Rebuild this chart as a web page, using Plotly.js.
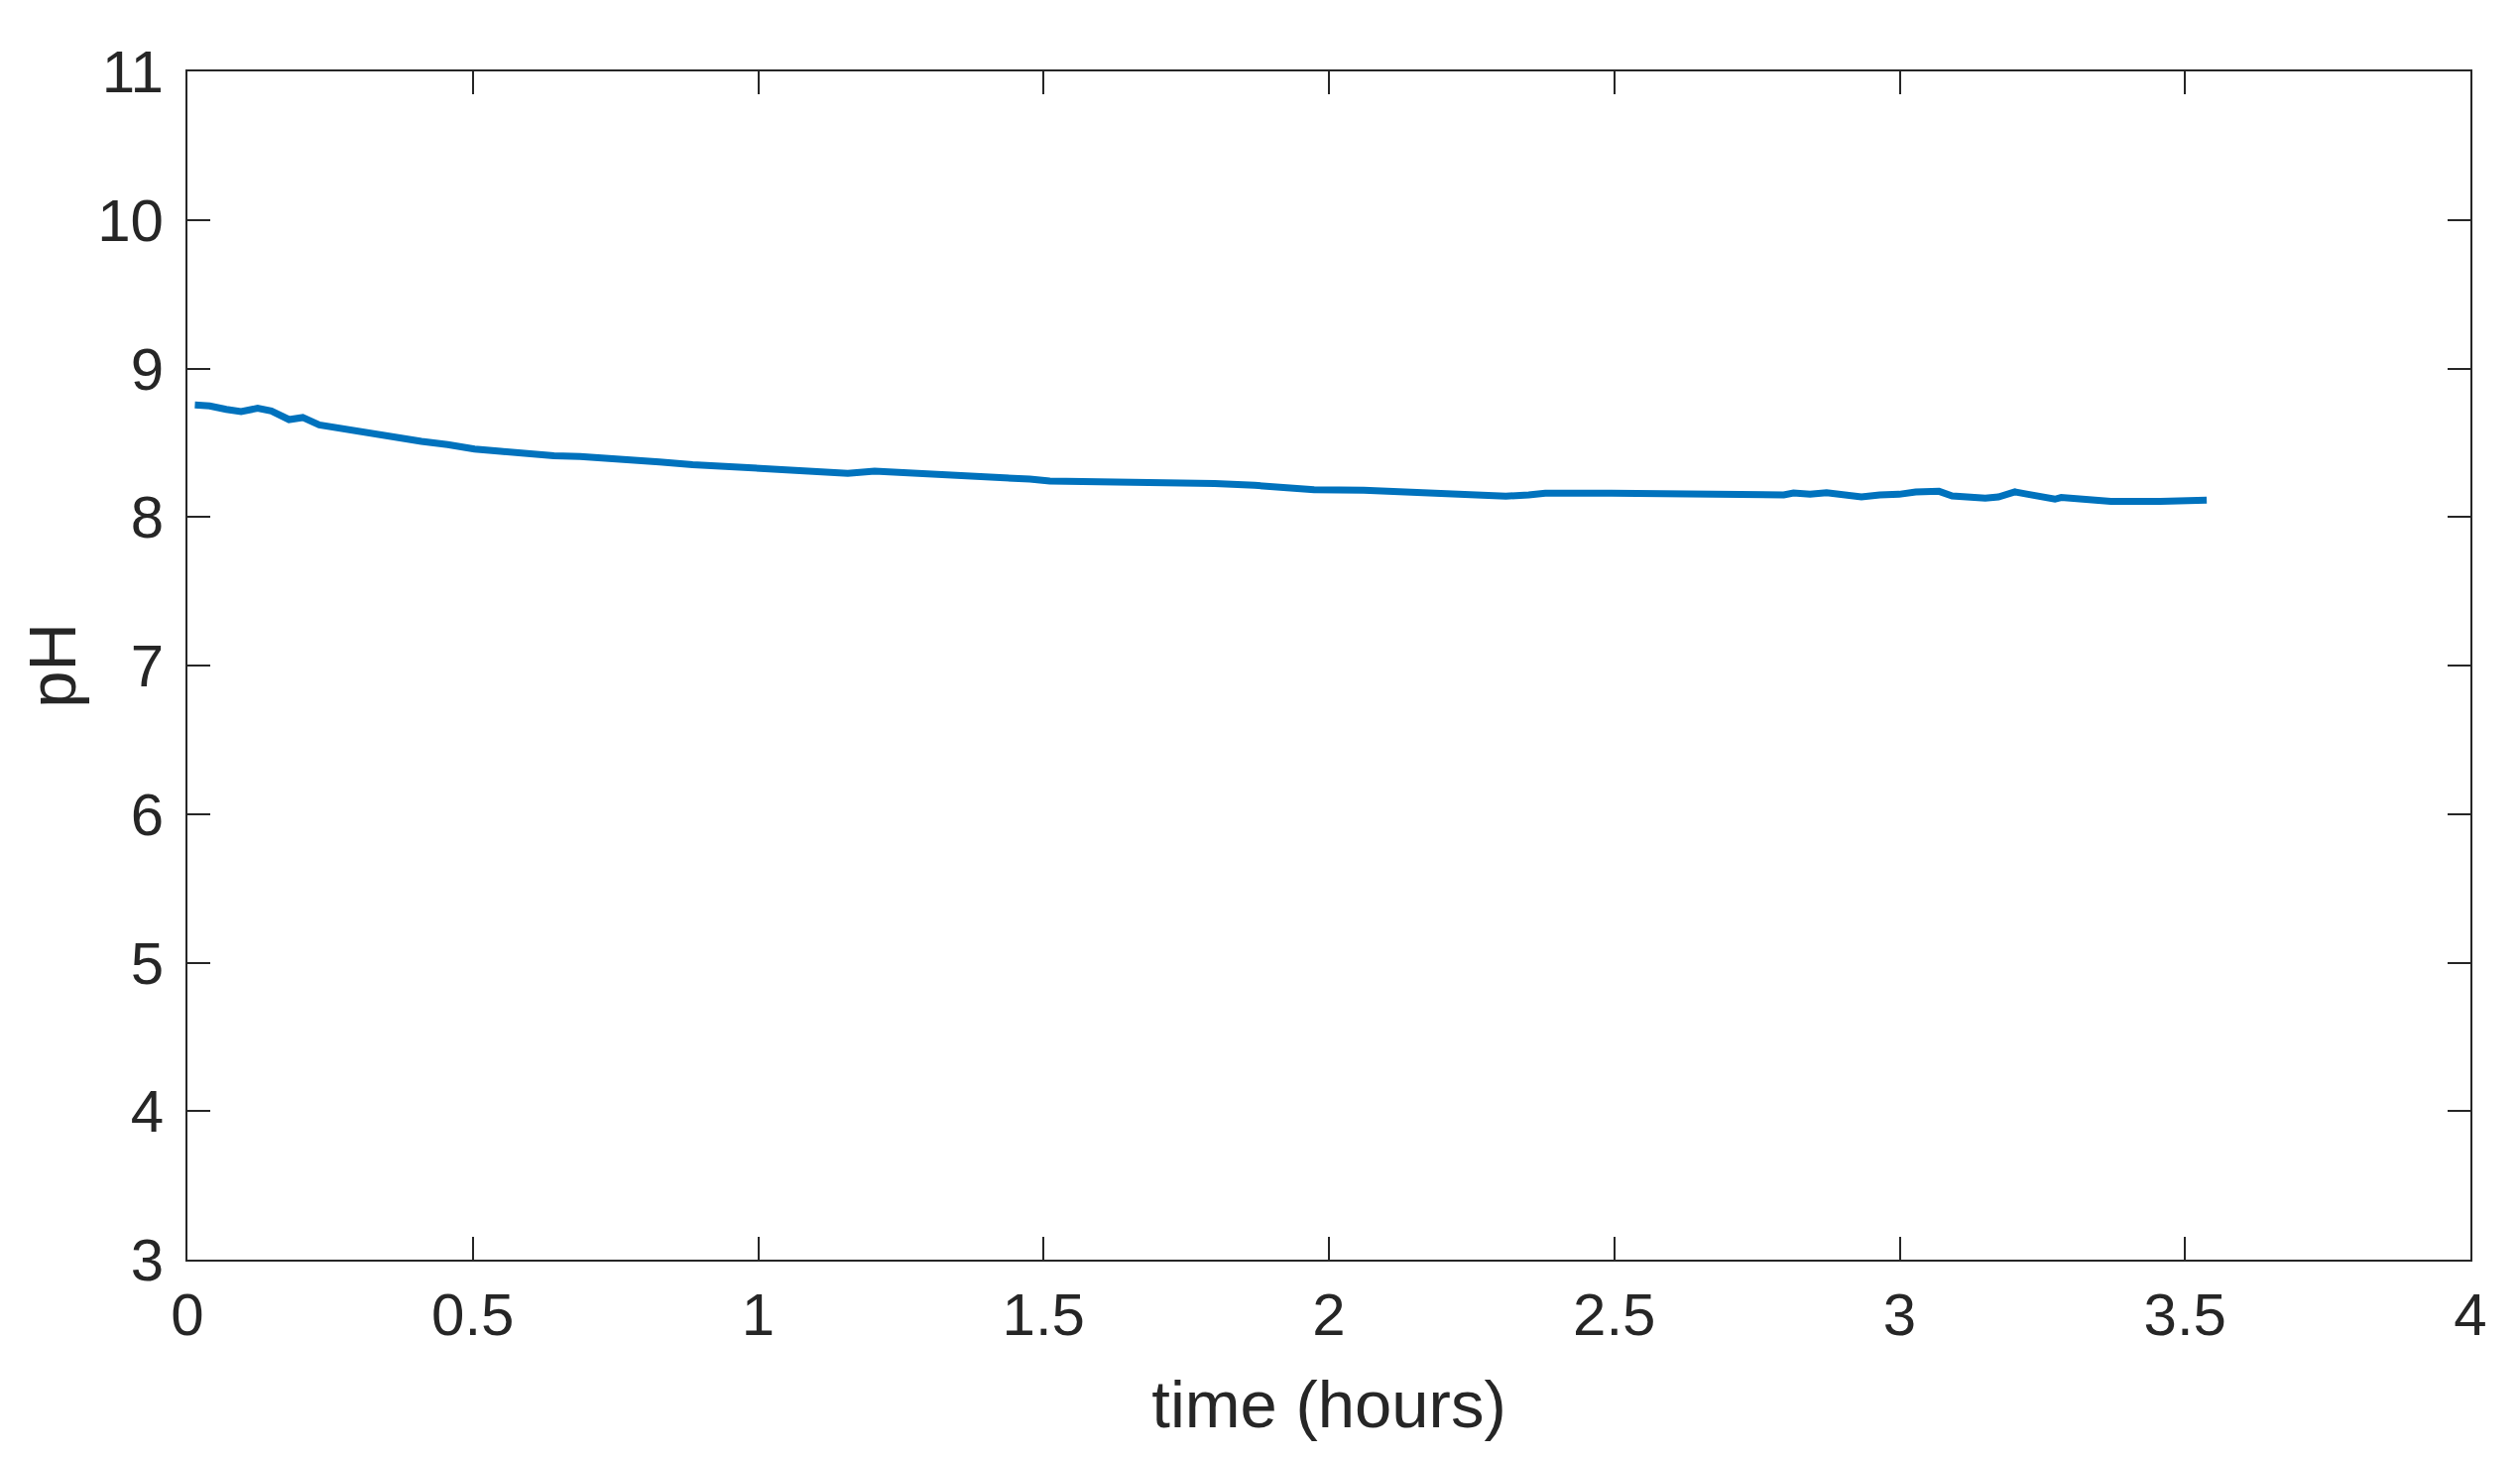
<!DOCTYPE html>
<html>
<head>
<meta charset="utf-8">
<script src="https://cdn.plot.ly/plotly-3.0.1.min.js"></script>
<style>
  html, body { margin: 0; padding: 0; background: #ffffff; }
  #chart { width: 2541px; height: 1472px; }
</style>
</head>
<body>
<div id="chart"></div>
<script>
// Elapsed time (hours)
const timeHours = [0.013, 0.039, 0.068, 0.094, 0.123, 0.147, 0.178, 0.202, 0.231, 0.271,
  0.317, 0.364, 0.410, 0.456, 0.503, 0.549, 0.595, 0.642, 0.688, 0.735,
  0.781, 0.827, 0.885, 0.955, 1.012, 1.070, 1.128, 1.157, 1.204, 1.256,
  1.314, 1.372, 1.430, 1.476, 1.511, 1.592, 1.679, 1.736, 1.800, 1.870,
  1.916, 1.974, 2.061, 2.119, 2.177, 2.235, 2.310, 2.350, 2.379, 2.495,
  2.704, 2.779, 2.797, 2.814, 2.843, 2.872, 2.907, 2.933, 2.965, 2.999,
  3.028, 3.051, 3.069, 3.092, 3.121, 3.150, 3.173, 3.202, 3.225, 3.254,
  3.272, 3.283, 3.312, 3.341, 3.370, 3.457, 3.523, 3.538];

// Measured pH
const pHValues = [8.754, 8.748, 8.725, 8.710, 8.732, 8.714, 8.656, 8.670, 8.620, 8.594,
  8.571, 8.536, 8.509, 8.487, 8.458, 8.442, 8.424, 8.413, 8.407, 8.398,
  8.389, 8.371, 8.353, 8.336, 8.320, 8.314, 8.298, 8.294, 8.309, 8.300,
  8.289, 8.280, 8.269, 8.255, 8.242, 8.240, 8.231, 8.229, 8.225, 8.213,
  8.198, 8.184, 8.180, 8.171, 8.160, 8.153, 8.140, 8.149, 8.160, 8.160,
  8.160, 8.160, 8.149, 8.162, 8.153, 8.164, 8.153, 8.135, 8.149, 8.153,
  8.169, 8.175, 8.173, 8.142, 8.131, 8.127, 8.135, 8.169, 8.153, 8.127,
  8.120, 8.131, 8.120, 8.114, 8.105, 8.105, 8.105, 8.114];

const xTickVals = [0, 0.5, 1, 1.5, 2, 2.5, 3, 3.5, 4];
const xTickText = ['0', '0.5', '1', '1.5', '2', '2.5', '3', '3.5', '4'];
const yTickVals = [3, 4, 5, 6, 7, 8, 9, 10, 11];
const yTickText = ['3', '4', '5', '6', '7', '8', '9', '10', '11'];

const axisColor = '#262626';
const fontFamily = '"Liberation Sans", Arial, Helvetica, sans-serif';

const trace = {
  x: timeHours,
  y: pHValues,
  type: 'scatter',
  mode: 'lines',
  line: { color: '#0072BD', width: 7, shape: 'linear' },
  hoverinfo: 'skip'
};

const commonAxis = {
  showgrid: false,
  zeroline: false,
  showline: true,
  linecolor: axisColor,
  linewidth: 2,
  mirror: 'ticks',
  ticks: 'inside',
  ticklen: 23,
  tickwidth: 2,
  tickcolor: axisColor,
  tickfont: { family: fontFamily, size: 60, color: axisColor }
};

const layout = {
  width: 2541,
  height: 1472,
  margin: { l: 189, r: 50, t: 72, b: 202 },
  paper_bgcolor: '#ffffff',
  plot_bgcolor: '#ffffff',
  showlegend: false,
  font: { family: fontFamily, color: axisColor },
  xaxis: Object.assign({}, commonAxis, {
    range: [0, 4],
    tickmode: 'array',
    tickvals: xTickVals,
    ticktext: xTickText,
    ticklabelstandoff: 2,
    title: { text: 'time (hours)', font: { family: fontFamily, size: 67, color: axisColor }, standoff: 34 }
  }),
  yaxis: Object.assign({}, commonAxis, {
    range: [3, 11],
    tickmode: 'array',
    tickvals: yTickVals,
    ticktext: yTickText,
    ticklabelstandoff: 10,
    title: { text: 'pH', font: { family: fontFamily, size: 67, color: axisColor }, standoff: 0 }
  })
};

Plotly.newPlot('chart', [trace], layout, { staticPlot: true, displayModeBar: false });
</script>
</body>
</html>
